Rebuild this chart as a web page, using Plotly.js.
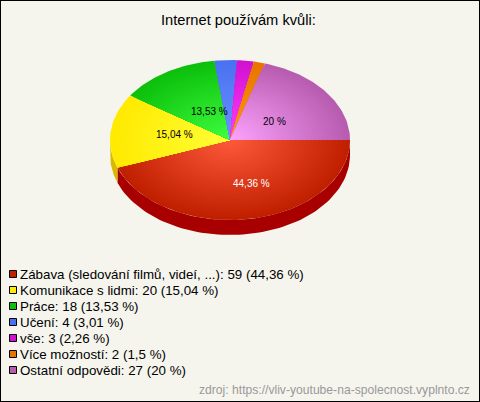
<!DOCTYPE html>
<html><head><meta charset="utf-8">
<script src="https://cdn.plot.ly/plotly-3.0.0.min.js"></script>
<style>html,body{margin:0;padding:0;background:#f5f5ee}#c{width:480px;height:402px}</style>
</head><body><div id="c"></div>
<script>
const categories = ['Zábava (sledování filmů, videí, ...)','Komunikace s lidmi','Práce','Učení','vše','Více možností','Ostatní odpovědi'];
const counts = [59,20,18,4,3,2,27];
const percentLabels = ['44,36 %','15,04 %','13,53 %','3,01 %','2,26 %','1,5 %','20 %'];
const legendPercents = ['44,36 %','15,04 %','13,53 %','3,01 %','2,26 %','1,5 %','20 %'];
const edgeColors = ['#c02000','#ffea00','#0cc00c','#4a72f0','#d012d0','#e87400','#b85cb0'];
const centerColors = ['#ff5a3c','#ffff38','#40ff40','#6a92ff','#ff40ff','#ff9a10','#ffa4ff'];
const sideColors = {0:'#a80000',1:'#d8b800'};
const cx=230, cy=140, rx=120, ry=80, depth=15, rings=30;
const labelPos = [[251,183],[174,134],[209,111],null,null,null,[274,121]];
const labelCol = ['#ffffff','#000000','#000000','#000','#000','#000','#000000'];

function hex(c){return [1,3,5].map(i=>parseInt(c.substr(i,2),16));}
function mix(a,b,t){const A=hex(a),B=hex(b);return 'rgb('+A.map((v,i)=>Math.round(v+(B[i]-v)*t)).join(',')+')';}
const total=counts.reduce((a,b)=>a+b,0);
let traces=[];
let angles=[0];counts.forEach(v=>angles.push(angles[angles.length-1]+v/total*2*Math.PI));
// side wall
[0,1].forEach(i=>{
  const a0=angles[i],a1=Math.min(angles[i+1],Math.PI);
  const xs=[],ys=[];
  for(let k=0;k<=80;k++){const a=a0+(a1-a0)*k/80;xs.push(cx+rx*Math.cos(a));ys.push(cy+ry*Math.sin(a));}
  for(let k=80;k>=0;k--){const a=a0+(a1-a0)*k/80;xs.push(cx+rx*Math.cos(a));ys.push(cy+depth+ry*Math.sin(a));}
  xs.push(xs[0]);ys.push(ys[0]);
  traces.push({x:xs,y:ys,mode:'lines',fill:'toself',fillcolor:sideColors[i],line:{width:0,color:sideColors[i]},hoverinfo:'skip',showlegend:false});
});
// top face: nested sectors give the radial shading
counts.forEach((v,i)=>{
  for(let r=rings;r>=1;r--){
    const f=r/rings,xs=[cx],ys=[cy],n=Math.max(4,Math.ceil((angles[i+1]-angles[i])*40));
    for(let k=0;k<=n;k++){const a=angles[i]+(angles[i+1]-angles[i])*k/n;xs.push(cx+rx*f*Math.cos(a));ys.push(cy+ry*f*Math.sin(a));}
    xs.push(cx);ys.push(cy);
    const col=mix(centerColors[i],edgeColors[i],f);
    traces.push({x:xs,y:ys,mode:'lines',fill:'toself',fillcolor:col,line:{width:0,color:col},hoverinfo:'skip',showlegend:false,name:categories[i]});
  }
});
// legend swatches
traces.push({x:categories.map(()=>13),y:categories.map((_,i)=>274+16*i),mode:'markers',hoverinfo:'skip',showlegend:false,
  marker:{symbol:'square',size:7,color:edgeColors,line:{color:'#000',width:1}}});
const ff='"Liberation Sans", Arial, sans-serif';
const ann=[];
const txt=(x,y,text,size,color,anchor)=>ann.push({x,y,xref:'x',yref:'y',text,showarrow:false,xanchor:anchor,yanchor:'middle',font:{family:ff,size,color},borderpad:0,borderwidth:0});
txt(238,20,'Internet používám kvůli:',14.67,'#000','center');
labelPos.forEach((p,i)=>{if(p)txt(p[0],p[1],percentLabels[i],10,labelCol[i],'center');});
categories.forEach((c,i)=>txt(20,274+16*i,c+': '+counts[i]+' ('+legendPercents[i]+')',13.33,'#000','left'));
txt(470,390,'zdroj: https://vliv-youtube-na-spolecnost.vyplnto.cz',12.13,'#999','right');
Plotly.newPlot('c',traces,{
  width:480,height:402,margin:{l:0,r:0,t:0,b:0},paper_bgcolor:'#f5f5ee',plot_bgcolor:'#f5f5ee',showlegend:false,
  xaxis:{range:[0,480],visible:false,fixedrange:true},
  yaxis:{range:[402,0],visible:false,fixedrange:true},
  annotations:ann,
  shapes:[{type:'rect',xref:'paper',yref:'paper',x0:0,x1:1,y0:0,y1:1,line:{color:'#000',width:2},fillcolor:'rgba(0,0,0,0)'}]
},{displayModeBar:false,staticPlot:true});
</script></body></html>
